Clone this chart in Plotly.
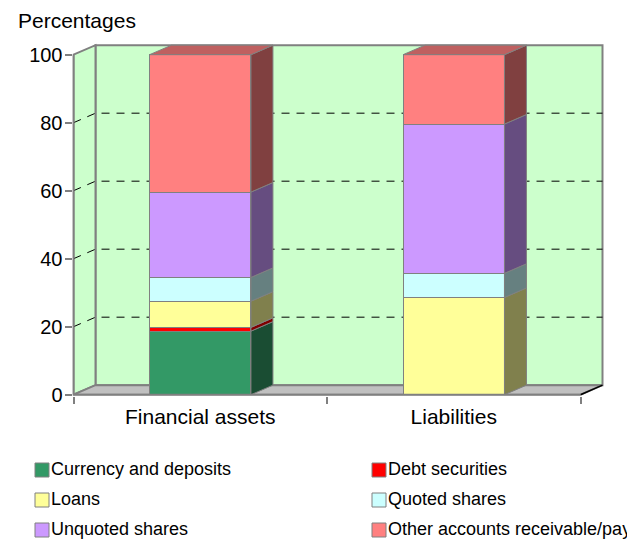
#!/usr/bin/env python3
"""Stacked pseudo-3D bars: financial assets and liabilities by instrument."""
import plotly.graph_objects as go

categories = ['Financial assets', 'Liabilities']
series_names = ['Currency and deposits', 'Debt securities', 'Loans',
                'Quoted shares', 'Unquoted shares', 'Other accounts receivable/payable']
currency = [18.7, 0]
debt = [1.1, 0]
loans = [7.7, 28.6]
quoted = [7.0, 7.1]
unquoted = [25.1, 43.9]
other = [40.4, 20.4]
y_ticks = [0, 20, 40, 60, 80, 100]
grid_values = [20, 40, 60, 80]

front_colors = ['#339966', '#FF0000', '#FFFF99', '#CCFFFF', '#CC99FF', '#FF8080']
side_colors = ['#1A4D33', '#800000', '#80804D', '#668080', '#664D80', '#804040']
top_color = '#BF6060'
wall_color = '#CCFFCC'
floor_color = '#C0C0C0'
edge_color = '#808080'
FONT = 'Liberation Sans, Arial, sans-serif'

W, H = 627, 541
PX_CAT = 253.5   # pixels per category
PX_PCT = 3.4     # pixels per percentage point
X0_PX, Y0_PX = 73.5, 394.7
DX = 22 / PX_CAT   # depth offset, data units
DY = 2.8
BAR_W = 0.4

x_low = -0.5 - 1 / PX_CAT
x_high = -0.5 + (605 - X0_PX) / PX_CAT
y_low = -1 / PX_PCT
y_high = (Y0_PX - 40) / PX_PCT
x_left, x_right = -0.5, 1.5

all_series = [currency, debt, loans, quoted, unquoted, other]

fig = go.Figure()

# front faces
for name, vals, col in zip(series_names, all_series, front_colors):
    fig.add_trace(go.Bar(x=list(range(len(categories))), y=vals, name=name, width=BAR_W,
                         marker=dict(color=col, line=dict(color=edge_color, width=1)),
                         showlegend=False))


def poly(xs, ys, color):
    fig.add_trace(go.Scatter(x=xs, y=ys, mode='lines', fill='toself', fillcolor=color,
                             line=dict(color=edge_color, width=1), hoverinfo='skip',
                             showlegend=False))


# side faces and lids
for i in range(len(categories)):
    right = i + BAR_W / 2
    left = i - BAR_W / 2
    base = 0
    for vals, col in zip(all_series, side_colors):
        v = vals[i]
        if v > 0:
            poly([right, right + DX, right + DX, right, right],
                 [base, base + DY, base + v + DY, base + v, base], col)
        base += v
    poly([left, left + DX, right + DX, right, left],
         [base, base + DY, base + DY, base, base], top_color)

shapes = []


def add_path(path, fill=None, color=edge_color, width=2, dash=None, layer='below'):
    line = dict(color=color, width=width)
    if dash:
        line['dash'] = dash
    s = dict(type='path', path=path, xref='x', yref='y', line=line, layer=layer)
    if fill:
        s['fillcolor'] = fill
    shapes.append(s)


top = y_ticks[-1]
# back wall, side wall, floor
add_path(f'M {x_left+DX} {DY} L {x_right+DX} {DY} L {x_right+DX} {top+DY} L {x_left+DX} {top+DY} Z', wall_color)
add_path(f'M {x_left} 0 L {x_left+DX} {DY} L {x_left+DX} {top+DY} L {x_left} {top} Z', wall_color)
add_path(f'M {x_left} 0 L {x_right} 0 L {x_right+DX} {DY} L {x_left+DX} {DY} Z', floor_color)
add_path(f'M {x_right} 0 L {x_right+DX} {DY}', color='black', width=1.5)

# dashed grid along side wall and back wall
for v in grid_values:
    add_path(f'M {x_left} {v} L {x_left+DX} {v+DY} L {x_right+DX} {v+DY}',
             color='black', width=1, dash='8px,7px')

# front axis lines
add_path(f'M {x_left} 0 L {x_right} 0', layer='above')
add_path(f'M {x_left} 0 L {x_left} {top}', layer='above')

annotations = [dict(text='Percentages', xref='paper', yref='paper', x=16 / W, y=1 - 20 / H,
                    xanchor='left', yanchor='middle', showarrow=False,
                    font=dict(family=FONT, size=21, color='black'))]

# legend drawn by hand: two columns, three rows
legend_cols = [35, 372]
legend_rows = [470, 500, 530]
for i, (name, col) in enumerate(zip(series_names, front_colors)):
    lx = legend_cols[i % 2]
    ly = legend_rows[i // 2]
    shapes.append(dict(type='rect', xref='paper', yref='paper',
                       x0=lx / W, x1=(lx + 14) / W, y0=1 - (ly - 7) / H, y1=1 - (ly + 7) / H,
                       fillcolor=col, line=dict(color=edge_color, width=1)))
    annotations.append(dict(text=name, xref='paper', yref='paper', x=(lx + 15) / W, y=1 - (ly - 1) / H,
                            xanchor='left', yanchor='middle', showarrow=False, borderpad=0,
                            font=dict(family=FONT, size=18, color='black')))

fig.update_layout(
    width=W, height=H,
    margin=dict(l=0, r=0, t=0, b=0),
    paper_bgcolor='white', plot_bgcolor='white',
    barmode='stack',
    shapes=shapes,
    annotations=annotations,
    font=dict(family=FONT, size=20, color='black'),
    xaxis=dict(domain=[(X0_PX - 1) / W, 605 / W], range=[x_low, x_high],
               tickmode='array', tickvals=[0, 1], ticktext=categories, ticks='',
               showgrid=False, zeroline=False, showline=False, ticklabelstandoff=6,
               automargin=False, tickfont=dict(size=21),
               minor=dict(tickmode='array', tickvals=[-0.5, 0.5, 1.5], ticks='outside',
                          ticklen=7, tickwidth=2, tickcolor=edge_color, showgrid=False)),
    yaxis=dict(domain=[(H - Y0_PX - 1) / H, (H - 40) / H], range=[y_low, y_high],
               tickmode='array', tickvals=y_ticks, ticks='outside', ticklen=7, tickwidth=2,
               tickcolor=edge_color, showgrid=False, zeroline=False, showline=False,
               automargin=False, tickfont=dict(size=20), ticklabelstandoff=-2),
)

fig.write_html('out.html', config=dict(displayModeBar=False),
               post_script="document.body.style.margin='0';")
